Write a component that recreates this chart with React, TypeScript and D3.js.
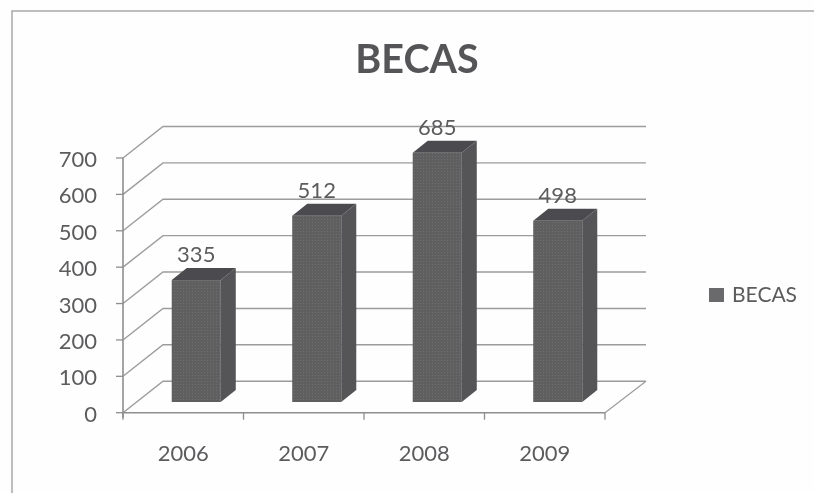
import * as d3 from 'd3';

const years = ['2006', '2007', '2008', '2009'];
const becas = [335, 512, 685, 498];
const yTicks = [0, 100, 200, 300, 400, 500, 600, 700];

const FONT = 'Lato, sans-serif';
const TEXT = '#5c5c5e';
const GRID = '#9c9c9c';
const AXIS = '#8e8e8e';

const W = 814;
const H = 493;

// plot box of the front plane, plus the 3D offset of the back wall
const x0 = 123;
const x1 = 605;
const yBase = 412.7;
const yTop = 158;
const wallDx = 40;
const wallDy = -31.5;

// bars sit a bit behind the front plane
const barLift = 10.7;
const barDx = 15;
const barDy = -12;

const x = d3.scaleBand<string>().domain(years).range([x0, x1]).paddingInner(0.593).paddingOuter(0.2965);
const y = d3.scaleLinear().domain([0, 700]).range([yBase, yTop]);
const poly = d3.line();
const barShift = 13;

export default function App() {
  const tickXs = [...years.map(d => (x(d) as number) - x.step() * 0.2965), x1];

  return (
    <svg width={W} height={H} style={{ position: 'absolute', left: 0, top: 0 }}>
      <defs>
        <filter id="scan" x="-2%" y="-2%" width="104%" height="104%">
          <feGaussianBlur stdDeviation="0.55" />
        </filter>
        <pattern id="dots" width="3" height="3" patternUnits="userSpaceOnUse">
          <rect width="3" height="3" fill="#5e5e61" />
          <rect width="1" height="1" fill="#6e6e70" />
        </pattern>
      </defs>
      <rect width={W} height={H} fill="#fefefe" />
      <g filter="url(#scan)">
        {/* frame, cut off by the scan on the right and bottom */}
        <path d={`M12,${H}V11H${W}`} fill="none" stroke="#a8a8a8" strokeWidth={1.5} />

        <text x={417} y={73} textAnchor="middle" fontFamily={FONT} fontSize={39.5} fontWeight={700} fill="#555558">
          BECAS
        </text>

        {/* gridlines: side wall then back wall */}
        {yTicks.map(t => (
          <path
            key={t}
            d={poly([[x0, y(t)], [x0 + wallDx, y(t) + wallDy], [x1 + wallDx + 1, y(t) + wallDy]]) as string}
            fill="none"
            stroke={GRID}
            strokeWidth={1.4}
          />
        ))}

        {/* floor edge */}
        <path d={poly([[x1, yBase], [x1 + wallDx + 1, yBase + wallDy]]) as string} fill="none" stroke={GRID} strokeWidth={1.2} />

        {/* axes */}
        <line x1={x0} x2={x0} y1={yTop} y2={yBase + 5} stroke={AXIS} strokeWidth={1.6} />
        <line x1={x0} x2={x1} y1={yBase} y2={yBase} stroke={AXIS} strokeWidth={1.6} />
        {yTicks.map(t => (
          <line key={t} x1={x0 - 7} x2={x0} y1={y(t)} y2={y(t)} stroke={AXIS} strokeWidth={1.3} />
        ))}
        {tickXs.map(tx => (
          <line key={tx} x1={tx} x2={tx} y1={yBase} y2={yBase + 7} stroke={AXIS} strokeWidth={1.3} />
        ))}

        {yTicks.map(t => (
          <text key={t} x={97} y={y(t) + 9} textAnchor="end" fontFamily={FONT} fontSize={22} fill={TEXT}>
            {t}
          </text>
        ))}

        {/* bars */}
        {years.map((yr, i) => {
          const left = (x(yr) as number) + barShift;
          const right = left + x.bandwidth();
          const bottom = yBase - barLift;
          const top = y(becas[i]) - barLift;
          return (
            <g key={yr}>
              <rect x={left} y={top} width={right - left} height={bottom - top} fill="url(#dots)" />
              <path
                d={poly([[right, top], [right + barDx, top + barDy], [right + barDx, bottom + barDy], [right, bottom]]) as string + 'Z'}
                fill="#545458"
              />
              <path
                d={poly([[left, top], [left + barDx, top + barDy], [right + barDx, top + barDy], [right, top]]) as string + 'Z'}
                fill="#4c4c50"
              />
              <text x={(left + right) / 2} y={top - 18} textAnchor="middle" fontFamily={FONT} fontSize={22} fill={TEXT}>
                {becas[i]}
              </text>
              <text x={(x(yr) as number) + x.bandwidth() / 2} y={461} textAnchor="middle" fontFamily={FONT} fontSize={22} fill={TEXT}>
                {yr}
              </text>
            </g>
          );
        })}

        {/* legend */}
        <rect x={709} y={288} width={15} height={14} fill="#6a6a6c" />
        <text x={732} y={302} fontFamily={FONT} fontSize={21} fill={TEXT}>
          BECAS
        </text>
      </g>
    </svg>
  );
}
